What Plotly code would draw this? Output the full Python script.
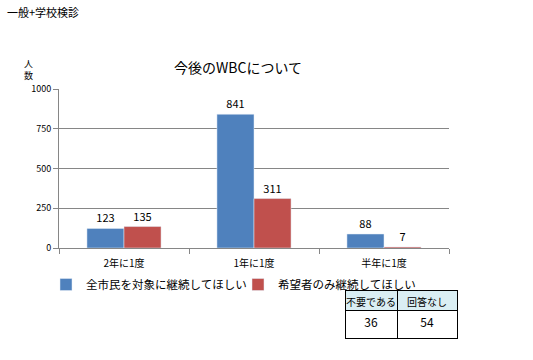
import plotly.graph_objects as go

categories = ["2年に1度", "1年に1度", "半年に1度"]
series_names = ["全市民を対象に継続してほしい", "希望者のみ継続してほしい"]
series_a = [123, 841, 88]
series_b = [135, 311, 7]
colors = ["#4F81BD", "#C0504D"]
y_ticks = [0, 250, 500, 750, 1000]
table_headers = ["不要である", "回答なし"]
table_values = [36, 54]

FONT = "Noto Sans CJK JP"
W, H = 533, 360
PX0, PX1, PY0, PY1 = 59, 449, 89, 248  # plot area in pixels


def fx(px):
    return px / W


def fy(py):
    return (H - py) / H


fig = go.Figure()
for name, vals, col in zip(series_names, [series_a, series_b], colors):
    fig.add_trace(go.Bar(
        x=categories, y=vals, name=name, marker_color=col,
        text=[str(v) for v in vals], textposition="outside",
        textfont=dict(family=FONT, size=11, color="#000"),
        cliponaxis=False,
    ))

fig.add_trace(go.Table(
    domain=dict(x=[fx(345), fx(458)], y=[fy(345), fy(290)]),
    columnwidth=[52, 60],
    header=dict(values=table_headers, fill_color="#DAEEF3",
                line=dict(color="#000", width=1),
                font=dict(family=FONT, size=10, color="#000"),
                align="center", height=20),
    cells=dict(values=[[v] for v in table_values], fill_color="white",
               line=dict(color="#000", width=1),
               font=dict(family=FONT, size=12, color="#000"),
               align="center", height=28),
))

fig.update_layout(
    width=W, height=H,
    margin=dict(l=0, r=0, t=0, b=0, autoexpand=False),
    paper_bgcolor="white", plot_bgcolor="white",
    font=dict(family=FONT, size=10, color="#000"),
    barmode="group", bargap=0.43, bargroupgap=0,
    showlegend=True,
    legend=dict(orientation="h", x=fx(46), y=fy(270),
                xanchor="left", yanchor="top", bgcolor="rgba(0,0,0,0)",
                font=dict(family=FONT, size=11.5), itemwidth=30,
                entrywidth=147, entrywidthmode="pixels",
                tracegroupgap=0),
    xaxis=dict(domain=[fx(PX0), fx(PX1)], showline=True, linecolor="#868686",
               ticks="outside", tickson="boundaries", ticklen=5,
               tickcolor="#868686", ticklabelstandoff=6,
               tickfont=dict(family=FONT, size=10)),
    yaxis=dict(domain=[fy(PY1), fy(PY0)], range=[0, 1000], tickvals=y_ticks,
               showgrid=True, gridcolor="#868686", showline=True,
               linecolor="#868686", ticks="outside", ticklen=5,
               tickcolor="#868686", tickfont=dict(family=FONT, size=9),
               zeroline=False),
    annotations=[
        dict(text="一般+学校検診", xref="paper", yref="paper",
             x=fx(5), y=fy(12), xanchor="left", yanchor="middle",
             showarrow=False, font=dict(family=FONT, size=11)),
        dict(text="今後のWBCについて", xref="paper", yref="paper",
             x=fx(238), y=fy(67), xanchor="center", yanchor="middle",
             showarrow=False, font=dict(family=FONT, size=14)),
        dict(text="人<br>数", xref="paper", yref="paper",
             x=fx(28), y=fy(55), xanchor="center", yanchor="top",
             showarrow=False, font=dict(family=FONT, size=9)),
    ],
)

fig.write_html("out.html", config={"displayModeBar": False},
               post_script="document.body.style.margin='0';document.body.style.padding='0';")
